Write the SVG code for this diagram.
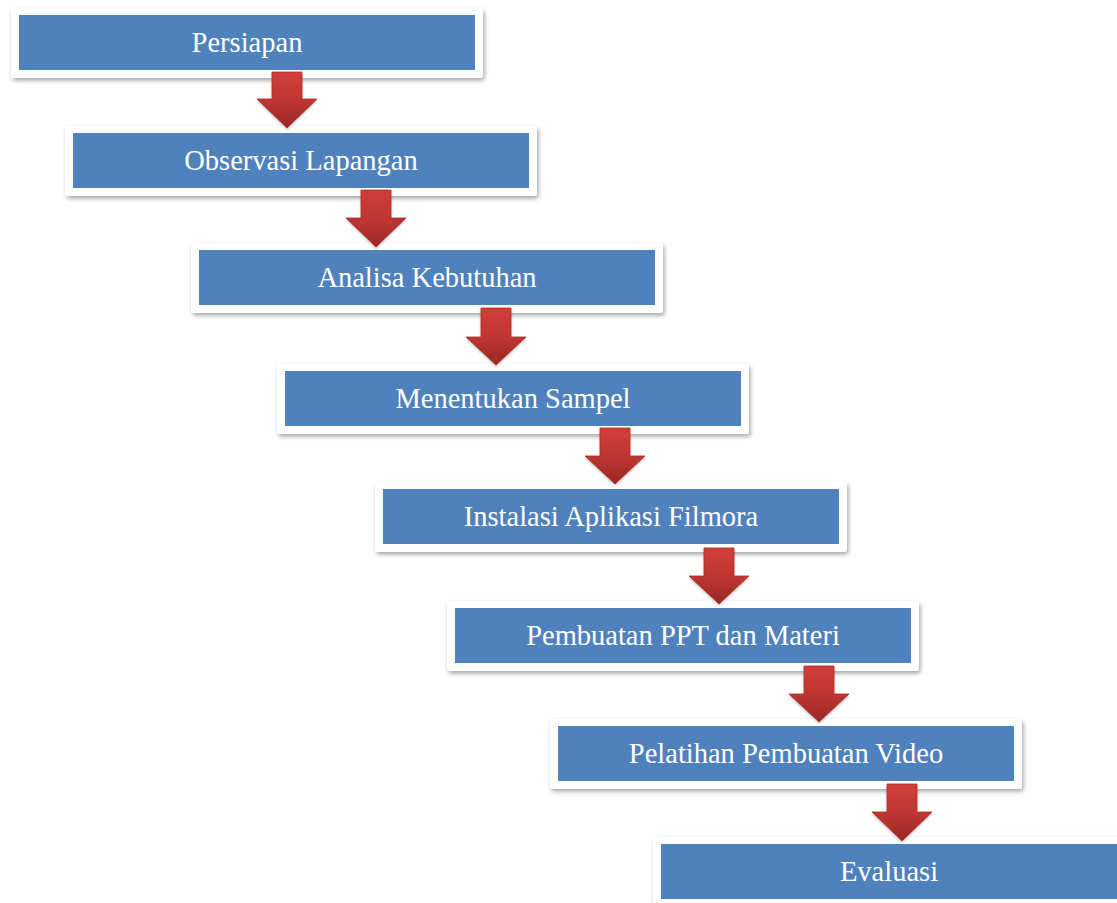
<svg xmlns="http://www.w3.org/2000/svg" width="1117" height="903" viewBox="0 0 1117 903">
  <style>
    .frame { fill: #ffffff; filter: url(#sh); }
    .box { fill: #4F81BD; }
    .lbl { font-family: "Liberation Serif", "Times New Roman", serif; font-size: 28.5px; fill: #ffffff; text-anchor: middle; }
    .arr { fill: url(#rg); stroke: #A8302C; stroke-width: 0.8; stroke-linejoin: miter; filter: url(#ash); }
  </style>
  <defs>
    <filter id="sh" x="-10%" y="-30%" width="120%" height="170%">
      <feDropShadow dx="1.5" dy="2.5" stdDeviation="2" flood-color="#000" flood-opacity="0.35"/>
    </filter>
    <filter id="ash" x="-30%" y="-20%" width="160%" height="150%">
      <feDropShadow dx="0" dy="1.5" stdDeviation="1" flood-color="#000" flood-opacity="0.25"/>
    </filter>
    <linearGradient id="rg" x1="0" y1="0" x2="0" y2="1">
      <stop offset="0" stop-color="#D23E39"/>
      <stop offset="0.5" stop-color="#BF3632"/>
      <stop offset="1" stop-color="#9A2724"/>
    </linearGradient>
  </defs>
  <rect width="1117" height="903" fill="#ffffff"/>

  <g id="n1">
    <rect class="frame" x="11" y="8" width="472" height="70" rx="3"/>
    <rect class="box" x="19" y="15" width="456" height="55"/>
    <text class="lbl" x="247" y="52">Persiapan</text>
  </g>
  <g id="n2">
    <rect class="frame" x="65" y="126" width="472" height="70" rx="3"/>
    <rect class="box" x="73" y="133" width="456" height="55"/>
    <text class="lbl" x="301" y="170">Observasi Lapangan</text>
  </g>
  <g id="n3">
    <rect class="frame" x="191" y="243" width="472" height="70" rx="3"/>
    <rect class="box" x="199" y="250" width="456" height="55"/>
    <text class="lbl" x="427" y="287">Analisa Kebutuhan</text>
  </g>
  <g id="n4">
    <rect class="frame" x="277" y="364" width="472" height="70" rx="3"/>
    <rect class="box" x="285" y="371" width="456" height="55"/>
    <text class="lbl" x="513" y="408">Menentukan Sampel</text>
  </g>
  <g id="n5">
    <rect class="frame" x="375" y="482" width="472" height="70" rx="3"/>
    <rect class="box" x="383" y="489" width="456" height="55"/>
    <text class="lbl" x="611" y="526">Instalasi Aplikasi Filmora</text>
  </g>
  <g id="n6">
    <rect class="frame" x="447" y="601" width="472" height="70" rx="3"/>
    <rect class="box" x="455" y="608" width="456" height="55"/>
    <text class="lbl" x="683" y="645">Pembuatan PPT dan Materi</text>
  </g>
  <g id="n7">
    <rect class="frame" x="550" y="719" width="472" height="70" rx="3"/>
    <rect class="box" x="558" y="726" width="456" height="55"/>
    <text class="lbl" x="786" y="763">Pelatihan Pembuatan Video</text>
  </g>
  <g id="n8">
    <rect class="frame" x="653" y="837" width="472" height="70" rx="3"/>
    <rect class="box" x="661" y="844" width="456" height="55"/>
    <text class="lbl" x="889" y="881">Evaluasi</text>
  </g>

  <g id="connectors">
    <path class="arr" d="M272,72 H302 V99 H317 L287,128 L257,99 H272 Z"/>
    <path class="arr" d="M361,190 H391 V218 H406 L376,247 L346,218 H361 Z"/>
    <path class="arr" d="M481,308 H511 V337 H526 L496,365 L466,337 H481 Z"/>
    <path class="arr" d="M600,428 H630 V456 H645 L615,484 L585,456 H600 Z"/>
    <path class="arr" d="M704,548 H734 V576 H749 L719,604 L689,576 H704 Z"/>
    <path class="arr" d="M804,666 H834 V694 H849 L819,722 L789,694 H804 Z"/>
    <path class="arr" d="M887,784 H917 V812 H932 L902,841 L872,812 H887 Z"/>
  </g>
</svg>
